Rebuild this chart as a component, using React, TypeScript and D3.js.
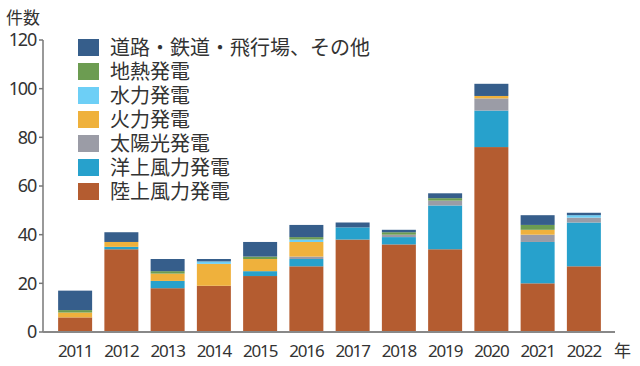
import React from "react";
import * as d3 from "d3";

const years = ["2011","2012","2013","2014","2015","2016","2017","2018","2019","2020","2021","2022"];
const onshoreWind = [6, 34, 18, 19, 23, 27, 38, 36, 34, 76, 20, 27];
const offshoreWind = [0, 1, 3, 0, 2, 3, 5, 3, 18, 15, 17, 18];
const solar = [0, 0, 0, 0, 0, 1, 0, 1, 2, 5, 3, 2];
const thermal = [2, 2, 3, 9, 5, 6, 0, 0, 0, 1, 2, 0];
const hydro = [0, 0, 0, 1, 0, 1, 0, 0, 0, 0, 0, 1];
const geothermal = [1, 0, 1, 0, 1, 1, 0, 1, 1, 0, 2, 0];
const roadRailAirport = [8, 4, 5, 1, 6, 5, 2, 1, 2, 5, 4, 1];

const seriesNames = ["陸上風力発電","洋上風力発電","太陽光発電","火力発電","水力発電","地熱発電","道路・鉄道・飛行場、その他"];
const seriesValues = [onshoreWind, offshoreWind, solar, thermal, hydro, geothermal, roadRailAirport];
const seriesColors = ["#b45c30","#27a1cc","#9b9ca6","#efb13c","#6dcff6","#6c9c51","#365e8b"];
const yTicks = [0, 20, 40, 60, 80, 100, 120];
const yTitle = "件数";
const xUnit = "年";

const W = 640, H = 366;
const FONT = "'Noto Sans CJK JP', 'Noto Sans', sans-serif";

export default function App() {
  const x = d3.scaleBand<string>().domain(years).range([35, 624]).paddingInner(0.265).paddingOuter(0.5);
  const y = d3.scaleLinear().domain([0, 120]).range([332, 40]);
  const keys = seriesNames.map((_, i) => String(i));
  const table = years.map((yr, j) => {
    const row: any = { year: yr };
    keys.forEach((k, i) => (row[k] = seriesValues[i][j]));
    return row;
  });
  const stacked = d3.stack<any>().keys(keys)(table);
  const legendOrder = [6, 5, 4, 3, 2, 1, 0];

  return (
    <svg width={W} height={H} style={{ position: "absolute", left: 0, top: 0 }} fontFamily={FONT}>
      <rect width={W} height={H} fill="#fff" />
      {stacked.map((layer, i) => (
        <g key={i} fill={seriesColors[i]}>
          {layer.map((d, j) =>
            d[1] - d[0] > 0 ? (
              <rect key={j} x={x(years[j])} width={x.bandwidth()} y={y(d[1])} height={y(d[0]) - y(d[1])} />
            ) : null
          )}
        </g>
      ))}
      {/* axes */}
      <line x1={43} x2={43} y1={y(120)} y2={y(0)} stroke="#777" strokeWidth={1.5} />
      <line x1={43} x2={615} y1={y(0)} y2={y(0)} stroke="#888" strokeWidth={2} />
      {yTicks.map((t) => (
        <g key={t}>
          <line x1={39} x2={43} y1={y(t)} y2={y(t)} stroke="#777" strokeWidth={1.5} />
          <text x={36} y={y(t)} dy="0.36em" textAnchor="end" fontSize={18} fill="#333" fontFamily="'Noto Sans', sans-serif" letterSpacing={-1.2}>
            {t}
          </text>
        </g>
      ))}
      <text x={6} y={24} fontSize={17} fill="#333">{yTitle}</text>
      {years.map((yr) => (
        <text key={yr} x={(x(yr) as number) + x.bandwidth() / 2} y={357} textAnchor="middle" fontSize={17} fill="#333" fontFamily="'Noto Sans', sans-serif" letterSpacing={-1.2}>
          {yr}
        </text>
      ))}
      <text x={614} y={357} fontSize={17} fill="#333">{xUnit}</text>
      {/* legend */}
      {legendOrder.map((si, r) => (
        <g key={si} transform={`translate(78, ${39 + r * 24})`}>
          <rect width={21} height={17} fill={seriesColors[si]} />
          <text x={32} y={8.5} dy="0.36em" fontSize={20} fill="#333">{seriesNames[si]}</text>
        </g>
      ))}
    </svg>
  );
}
